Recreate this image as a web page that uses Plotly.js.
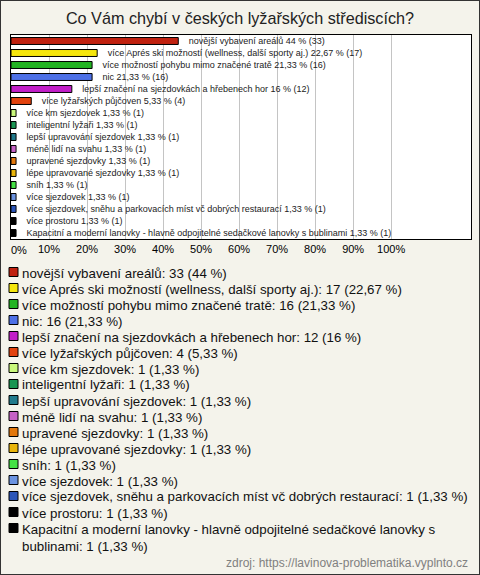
<!DOCTYPE html>
<html>
<head>
<meta charset="utf-8">
<script src="https://cdn.plot.ly/plotly-3.0.1.min.js"></script>
<style>
  html, body { margin: 0; padding: 0; background: #f4f3eb; }
  #wrap { position: relative; width: 480px; height: 575px; }
  #chart { width: 480px; height: 575px; }
  #frame { position: absolute; left: 0; top: 0; width: 480px; height: 575px; box-sizing: border-box; border: 1px solid #333; pointer-events: none; }
</style>
</head>
<body>
<div id="wrap"><div id="chart"></div><div id="frame"></div></div>
<script>
const categories = [
  "novější vybavení areálů",
  "více Aprés ski možností (wellness, další sporty aj.)",
  "více možností pohybu mimo značené tratě",
  "nic",
  "lepší značení na sjezdovkách a hřebenech hor",
  "více lyžařských půjčoven",
  "více km sjezdovek",
  "inteligentní lyžaři",
  "lepší upravování sjezdovek",
  "méně lidí na svahu",
  "upravené sjezdovky",
  "lépe upravované sjezdovky",
  "sníh",
  "více sjezdovek",
  "více sjezdovek, sněhu a parkovacích míst vč dobrých restaurací",
  "více prostoru",
  "Kapacitní a moderní lanovky - hlavně odpojitelné sedačkové lanovky s bublinami"
];
const counts = [33, 17, 16, 16, 12, 4, 1, 1, 1, 1, 1, 1, 1, 1, 1, 1, 1];
const percents = [44, 22.67, 21.33, 21.33, 16, 5.33, 1.33, 1.33, 1.33, 1.33, 1.33, 1.33, 1.33, 1.33, 1.33, 1.33, 1.33];
const colors = [
  "#c0210f", "#f5e60c", "#22b422", "#4d70e6", "#c21ec8", "#e2420e",
  "#c9f77b", "#199653", "#217a8c", "#c662c6", "#e3780d", "#e9b50b",
  "#45e245", "#6b93e0", "#2b55b8", "#000000", "#000000"
];
const tickVals = [0, 10, 20, 30, 40, 50, 60, 70, 80, 90, 100];
const tickLabels = ["0%", "10%", "20%", "30%", "40%", "50%", "60%", "70%", "80%", "90%", "100%"];
const titleText = "Co Vám chybí v českých lyžařských střediscích?";
const sourceText = "zdroj: https://lavinova-problematika.vyplnto.cz";

const FONT = "'Liberation Sans', Arial, sans-serif";
const fmt = v => String(v).replace(".", ",");
const barText = categories.map((c, i) => "\u00a0\u00a0\u00a0" + c + " " + fmt(percents[i]) + " % (" + counts[i] + ")");
const legendText = categories.map((c, i) => c + ": " + counts[i] + " (" + fmt(percents[i]) + " %)");
// first tick label is left-aligned to the plot edge in the reference: drawn as annotation below
const tickText = tickLabels.map((t, i) => i === 0 ? "" : t);

// layout geometry (pixels)
const W = 480, H = 575;
const M = { l: 11, r: 9, t: 35, b: 336 };
const plotW = W - M.l - M.r, plotH = H - M.t - M.b;
const px = x => (x - M.l) / plotW;
const py = y => (H - M.b - y) / plotH;

const LEG_SIZE = 13.3;
const cvs = document.createElement("canvas").getContext("2d");
cvs.font = LEG_SIZE + "px 'Liberation Sans', Arial, sans-serif";
function wrap(str, maxW) {
  const words = str.split(" ");
  const lines = [];
  let cur = "";
  words.forEach(w => {
    const t = cur ? cur + " " + w : w;
    if (cvs.measureText(t).width > maxW && cur) { lines.push(cur); cur = w; }
    else cur = t;
  });
  lines.push(cur);
  return lines;
}

const shapes = [];
const annotations = [];
let yCur = 272;
const step = 16;
legendText.forEach((t, i) => {
  const lines = wrap(t, 452);
  shapes.push({
    type: "rect", xref: "paper", yref: "paper",
    x0: px(9), x1: px(18), y0: py(yCur + 4.5), y1: py(yCur - 4.5),
    fillcolor: colors[i], line: { color: "#000", width: 1 }
  });
  annotations.push({
    xref: "paper", yref: "paper", x: px(20), y: py(yCur - 8.5),
    xanchor: "left", yanchor: "top", align: "left", showarrow: false,
    text: lines.join("<br>"),
    font: { family: FONT, size: LEG_SIZE, color: "#111" }
  });
  yCur += step * lines.length + (lines.length > 1 ? 1.5 : 0);
});
annotations.push({
  xref: "paper", yref: "paper", x: px(470), y: py(563),
  xanchor: "right", yanchor: "middle", showarrow: false,
  text: sourceText,
  font: { family: FONT, size: 12, color: "#808080" }
});
annotations.push({
  xref: "x", yref: "paper", x: tickVals[0], y: py(249.5),
  xanchor: "left", yanchor: "middle", showarrow: false, xshift: -2,
  text: tickLabels[0],
  font: { family: FONT, size: 11, color: "#000" }
});

const trace = {
  type: "bar", orientation: "h",
  y: categories, x: percents,
  width: 0.58,
  marker: { color: colors, line: { color: "#000", width: 1 } },
  text: barText, textposition: "outside", constraintext: "none", cliponaxis: false,
  textfont: { family: FONT, size: 9, color: "#222" },
  hoverinfo: "none"
};

const layout = {
  width: W, height: H,
  margin: M,
  paper_bgcolor: "#f4f3eb", plot_bgcolor: "#ffffff",
  showlegend: false,
  title: {
    text: titleText, x: 0.5, xanchor: "center", yref: "container", y: (H - 18) / H, yanchor: "middle",
    font: { family: FONT, size: 16.2, color: "#222" }
  },
  xaxis: {
    range: [0, 121], tickvals: tickVals, ticktext: tickText,
    showgrid: true, gridcolor: "#c4c4c4", gridwidth: 1, zeroline: false,
    showline: true, mirror: true, linecolor: "#000", linewidth: 1,
    ticks: "", tickfont: { family: FONT, size: 11, color: "#000" },
    fixedrange: true
  },
  yaxis: {
    type: "category", autorange: "reversed", showticklabels: false, showgrid: false,
    zeroline: false, showline: true, mirror: true, linecolor: "#000", linewidth: 1,
    ticks: "", fixedrange: true
  },
  shapes: shapes,
  annotations: annotations
};

Plotly.newPlot("chart", [trace], layout, { displayModeBar: false, staticPlot: true });
</script>
</body>
</html>
